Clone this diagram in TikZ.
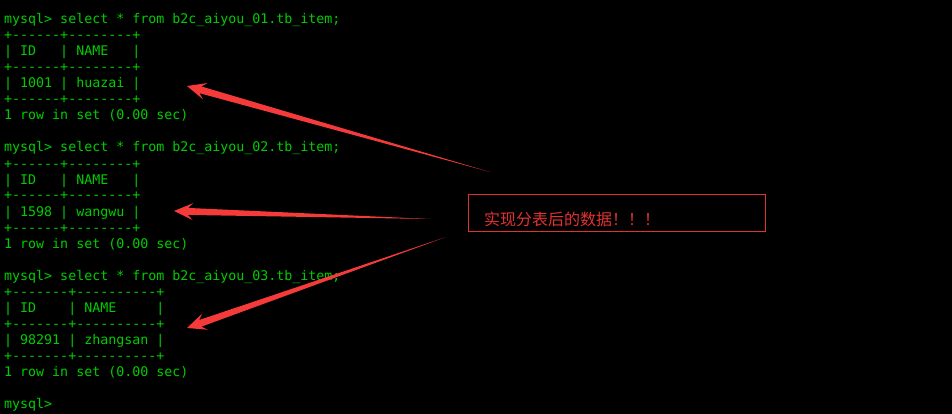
\documentclass[tikz,border=0pt]{standalone}
\usepackage{fontspec}
\setmonofont{DejaVu Sans Mono}
\newfontfamily\cjk{Noto Sans CJK SC}
\usetikzlibrary{calc}
\definecolor{termgreen}{RGB}{0,205,0}
\definecolor{arrowred}{RGB}{245,58,58}
\definecolor{boxred}{RGB}{225,50,50}
\tikzset{
  term/.style={anchor=base west, inner sep=0pt, text=termgreen, font=\ttfamily\fontsize{13.3pt}{16pt}\selectfont},
  notebox/.style={draw=boxred, line width=1pt, minimum width=297pt, minimum height=37pt, inner sep=0pt},
  notetext/.style={anchor=base west, inner sep=0pt, text=boxred, font=\cjk\fontsize{16pt}{19pt}\selectfont}
}
\newcommand\taparrow[2]{%
  \coordinate (tapn) at ($(#2)!14pt!(#1)$);
  \coordinate (tapb) at ($(#2)!19pt!(#1)$);
  \fill[arrowred] (#1) -- ($(tapn)!3.5pt!90:(#1)$) -- ($(tapb)!8.5pt!90:(#1)$) -- (#2)
     -- ($(tapb)!8.5pt!-90:(#1)$) -- ($(tapn)!3.5pt!-90:(#1)$) -- cycle;
}
\begin{document}
\begin{tikzpicture}[x=1pt,y=-1pt]
\fill[black] (0,0) rectangle (952,414);
\useasboundingbox (0,0) rectangle (952,414);
% block 1
\node[term] (l1) at (4,24) {mysql> select * from b2c\_aiyou\_01.tb\_item;};
\node[term] (l2) at (4,40) {+------+--------+};
\node[term] (l3) at (4,56) {|\ ID\ \ \ |\ NAME\ \ \ |};
\node[term] (l4) at (4,72) {+------+--------+};
\node[term] (l5) at (4,88) {|\ 1001\ |\ huazai\ |};
\node[term] (l6) at (4,104) {+------+--------+};
\node[term] (l7) at (4,120) {1 row in set (0.00 sec)};
% block 2
\node[term] (m1) at (4,152) {mysql> select * from b2c\_aiyou\_02.tb\_item;};
\node[term] (m2) at (4,168) {+------+--------+};
\node[term] (m3) at (4,184) {|\ ID\ \ \ |\ NAME\ \ \ |};
\node[term] (m4) at (4,200) {+------+--------+};
\node[term] (m5) at (4,216) {|\ 1598\ |\ wangwu\ |};
\node[term] (m6) at (4,232) {+------+--------+};
\node[term] (m7) at (4,248) {1 row in set (0.00 sec)};
% block 3
\node[term] (n1) at (4,280) {mysql> select * from b2c\_aiyou\_03.tb\_item;};
\node[term] (n2) at (4,296) {+-------+----------+};
\node[term] (n3) at (4,312) {|\ ID\ \ \ \ |\ NAME\ \ \ \ \ |};
\node[term] (n4) at (4,328) {+-------+----------+};
\node[term] (n5) at (4,344) {|\ 98291\ |\ zhangsan\ |};
\node[term] (n6) at (4,360) {+-------+----------+};
\node[term] (n7) at (4,376) {1 row in set (0.00 sec)};
\node[term] (p1) at (4,408) {mysql>};
% note
\node[notebox] (note) at (616.5,212.5) {};
\node[notetext] (notetxt) at (484,225) {实现分表后的数据！！！};
% arrows
\coordinate (t1) at (490,172);
\coordinate (h1) at (187,86);
\coordinate (t2) at (430,219);
\coordinate (h2) at (174,211);
\coordinate (t3) at (446,237);
\coordinate (h3) at (187,328);
\taparrow{t1}{h1}
\taparrow{t2}{h2}
\taparrow{t3}{h3}
\end{tikzpicture}
\end{document}
